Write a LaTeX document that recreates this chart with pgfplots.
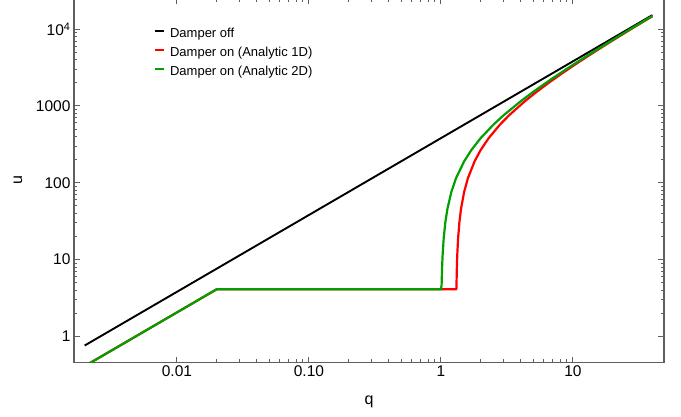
\documentclass[border=0pt]{standalone}
\usepackage{fontspec}
\setmainfont{Liberation Sans}
\usepackage{pgfplots}
\pgfplotsset{compat=1.18}

\definecolor{dgreen}{RGB}{0,160,0}
\definecolor{axgray}{RGB}{95,95,95}

\begin{document}
\begin{tikzpicture}
\begin{axis}[
  xmode=log, ymode=log,
  scale only axis, width=590pt, height=364pt,
  xmin=0.00166, xmax=49, ymin=0.457, ymax=25000,
  xtick={0.01,0.1,1,10}, xticklabels={0.01,0.10,1,10},
  ytick={1,10,100,1000,10000}, yticklabels={1,10,100,1000,10\textsuperscript{4}},
  /pgf/number format/assume math mode=true,
  tick label style={font=\fontsize{15.5}{18}\selectfont},
  label style={font=\fontsize{16}{19}\selectfont},
  xlabel={q}, ylabel={u},
  xlabel style={at={(axis description cs:0.5,0)}, anchor=center, yshift=-39pt},
  ylabel style={at={(axis description cs:0,0.5)}, anchor=center, yshift=56pt},
  axis line style={axgray, line width=1.3pt},
  every tick/.style={axgray, line width=0.9pt},
  major tick length=6pt, minor tick length=3.5pt,
  tick align=inside,
  legend cell align=left,
  legend image code/.code={\draw[#1, line width=1.6pt] (0pt,3.5pt) -- (9pt,3.5pt);},
  legend style={at={(axis description cs:0.131,0.927)}, anchor=north west,
    draw=none, fill=none, font=\fontsize{13}{15}\selectfont, row sep=5pt,
    /tikz/every odd column/.append style={column sep=4pt},
    nodes={inner sep=1pt, text height=9pt, text depth=3pt}},
]
% damper off
\addplot[black, line width=1.9pt] coordinates {(0.002,0.76) (40,15200)};
\addlegendentry{Damper off}
% damper on, analytic 1D
\addplot[red, line width=2.2pt] coordinates {
  (0.002,0.41) (0.02,4.1) (1.3,4.1) (1.311,4.2) (1.32,7.6) (1.33,11.4)
  (1.35,19) (1.38,30.4) (1.42,45.6) (1.5,76) (1.6,114) (1.8,190)
  (2.0,266) (2.3,380) (2.8,570) (3.3,760) (4.3,1140) (5.3,1520)
  (6.8,2090) (8.3,2660) (10.3,3420) (13.3,4560) (17.3,6080)
  (22.3,7980) (28.3,10260) (34.3,12540) (40,14700)};
\addlegendentry{Damper on (Analytic 1D)}
% damper on, analytic 2D
\addplot[dgreen, line width=2.2pt] coordinates {
  (0.002,0.41) (0.02,4.1) (1.0,4.1) (1.012,4.6) (1.02,7.6) (1.03,11.4)
  (1.05,19) (1.08,30.4) (1.12,45.6) (1.2,76) (1.3,114) (1.5,190)
  (1.7,266) (2.0,380) (2.5,570) (3.0,760) (4.0,1140) (5.0,1520)
  (6.5,2090) (8.0,2660) (10,3420) (13,4560) (17,6080)
  (22,7980) (28,10260) (34,12540) (40,14820)};
\addlegendentry{Damper on (Analytic 2D)}
\end{axis}
\pgfresetboundingbox
\path[use as bounding box] (-74pt,-54.5pt) rectangle (607pt,362.5pt);
\end{tikzpicture}
\end{document}
